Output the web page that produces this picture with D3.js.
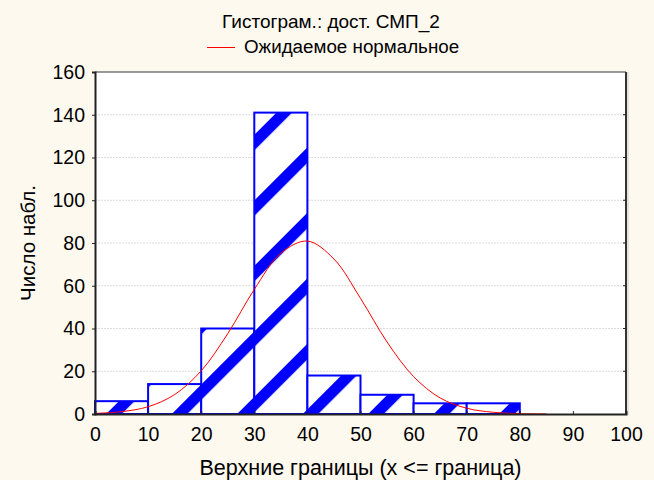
<!DOCTYPE html>
<html>
<head>
<meta charset="utf-8">
<script src="https://cdn.jsdelivr.net/npm/d3@7"></script>
<style>
  body { margin: 0; background: #fdf9ef; }
  svg { display: block; font-family: "Liberation Sans", Arial, sans-serif; }
</style>
</head>
<body>
<svg width="654" height="480"></svg>
<script>
// histogram bins (upper bounds) and counts
var binStarts = [0, 10, 20, 30, 40, 50, 60, 70];
var binWidth = 10;
var counts = [6, 14, 40, 141, 18, 9, 5, 5];

// expected normal curve
var curveX = [0, 5, 10, 15, 20, 25, 30, 35, 40, 45, 50, 55, 60, 65, 70, 75, 80, 85];
var curveY = [0.3, 1.1, 3.4, 9.1, 20.2, 37.6, 58.3, 75.2, 80.9, 72.5, 54.1, 33.7, 17.5, 7.5, 2.7, 0.8, 0.2, 0.05];

var xTicks = [0, 10, 20, 30, 40, 50, 60, 70, 80, 90, 100];
var yTicks = [0, 20, 40, 60, 80, 100, 120, 140, 160];

var titleText = "Гистограм.: дост. СМП_2";
var legendText = "Ожидаемое нормальное";
var xTitle = "Верхние границы (x <= граница)";
var yTitle = "Число набл.";

var svg = d3.select("svg");
var margin = { left: 95, right: 28, top: 72, bottom: 66 };
var width = 654, height = 480;

var x = d3.scaleLinear().domain([0, 100]).range([margin.left, width - margin.right]);
var y = d3.scaleLinear().domain([0, 160]).range([height - margin.bottom, margin.top]);

// diagonal stripe pattern
var period = 65.5 / Math.SQRT2;
var defs = svg.append("defs");
var pat = defs.append("pattern")
    .attr("id", "stripes")
    .attr("patternUnits", "userSpaceOnUse")
    .attr("width", period)
    .attr("height", period)
    .attr("x", -2.7)
    .attr("patternTransform", "rotate(45)");
pat.append("rect").attr("width", period).attr("height", period).attr("fill", "#fff");
pat.append("rect").attr("width", 11).attr("height", period).attr("fill", "#0000ff");

// plot background
svg.append("rect")
    .attr("x", x(0)).attr("y", y(160))
    .attr("width", x(100) - x(0)).attr("height", y(0) - y(160))
    .attr("fill", "#fff");

// grid
svg.append("g").selectAll("line")
    .data(yTicks.slice(1, -1))
    .enter().append("line")
    .attr("x1", x(0)).attr("x2", x(100))
    .attr("y1", function (d) { return y(d); })
    .attr("y2", function (d) { return y(d); })
    .attr("stroke", "#dcdcdc")
    .attr("stroke-dasharray", "2,1");

// bars
svg.append("g").selectAll("rect")
    .data(counts)
    .enter().append("rect")
    .attr("x", function (d, i) { return x(binStarts[i]); })
    .attr("y", function (d) { return y(d); })
    .attr("width", function (d, i) { return x(binStarts[i] + binWidth) - x(binStarts[i]); })
    .attr("height", function (d) { return y(0) - y(d); })
    .attr("fill", "url(#stripes)")
    .attr("stroke", "#0000ff")
    .attr("stroke-width", 2);

// normal curve
var line = d3.line()
    .x(function (d) { return x(d[0]); })
    .y(function (d) { return y(d[1]); })
    .curve(d3.curveCatmullRom);
svg.append("path")
    .datum(d3.zip(curveX, curveY))
    .attr("d", line)
    .attr("fill", "none")
    .attr("stroke", "#ff0000")
    .attr("stroke-width", 1);

// frame
svg.append("line").attr("x1", x(0)).attr("x2", x(100)).attr("y1", y(160)).attr("y2", y(160))
    .attr("stroke", "#777").attr("stroke-width", 1.5);
svg.append("line").attr("x1", x(100)).attr("x2", x(100)).attr("y1", y(160)).attr("y2", y(0))
    .attr("stroke", "#333").attr("stroke-width", 2);
svg.append("line").attr("x1", x(100) + 2).attr("x2", x(100) + 2).attr("y1", y(160)).attr("y2", y(0) + 1)
    .attr("stroke", "#ccc").attr("stroke-width", 1);

// axes
var xAxis = d3.axisBottom(x).tickValues(xTicks).tickSize(-3).tickPadding(13);
var gx = svg.append("g").attr("transform", "translate(0," + y(0) + ")").call(xAxis);
var yAxis = d3.axisLeft(y).tickValues(yTicks).tickSize(3).tickPadding(7);
var gy = svg.append("g").attr("transform", "translate(" + x(0) + ",0)").call(yAxis);
[gx, gy].forEach(function (g) {
    g.select(".domain").attr("stroke", "#222").attr("stroke-width", 2);
    g.selectAll(".tick line").attr("stroke", "#222");
    g.selectAll("text").attr("font-size", 19.5).attr("fill", "#000")
        .attr("font-family", "Liberation Sans, Arial, sans-serif");
});

// right-side inner ticks
svg.append("g").selectAll("line")
    .data(yTicks.slice(1, -1))
    .enter().append("line")
    .attr("x1", x(100) - 3).attr("x2", x(100))
    .attr("y1", function (d) { return y(d); })
    .attr("y2", function (d) { return y(d); })
    .attr("stroke", "#222");

// titles
svg.append("text").attr("x", 331).attr("y", 28).attr("text-anchor", "middle")
    .attr("font-size", 19).text(titleText);
svg.append("line").attr("x1", 207).attr("x2", 235).attr("y1", 47.5).attr("y2", 47.5)
    .attr("stroke", "#ff0000").attr("stroke-width", 1);
svg.append("text").attr("x", 244).attr("y", 53)
    .attr("font-size", 18.8).text(legendText);
svg.append("text").attr("x", x(50)).attr("y", 475).attr("text-anchor", "middle")
    .attr("font-size", 21.5).text(xTitle);
svg.append("text")
    .attr("transform", "translate(35," + y(80) + ") rotate(-90)")
    .attr("text-anchor", "middle")
    .attr("font-size", 20.5).text(yTitle);
</script>
</body>
</html>
